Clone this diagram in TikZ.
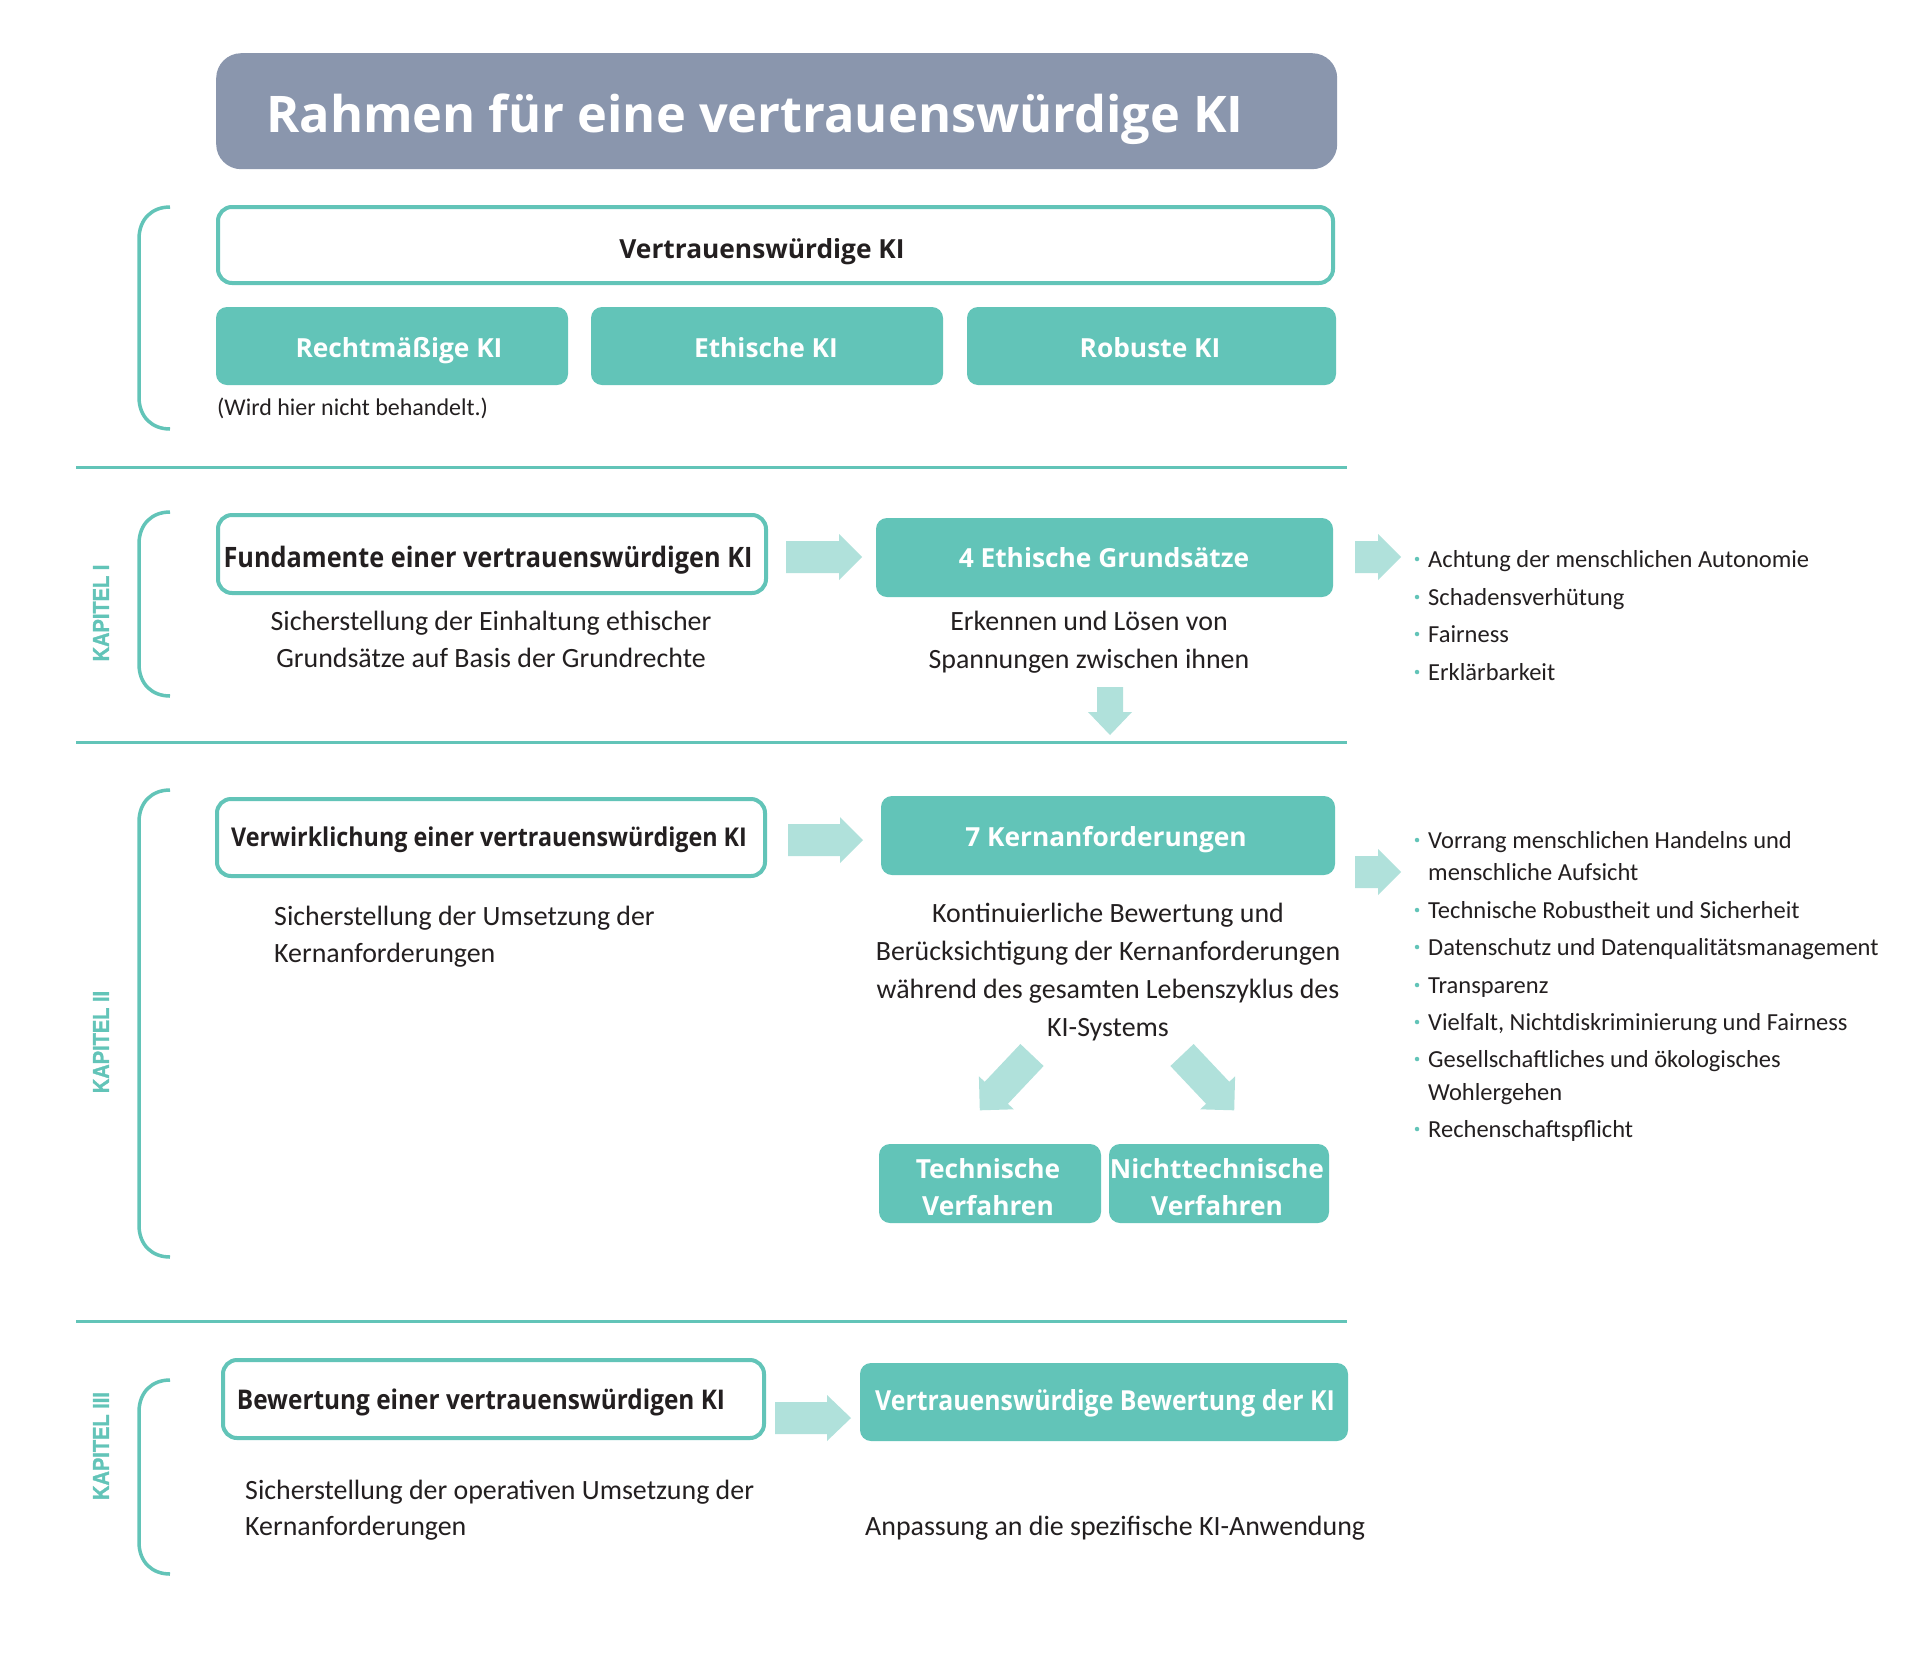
\documentclass[tikz,border=0pt]{standalone}
\usepackage{fontspec}
\setmainfont{Carlito}
\newfontfamily\osfont{Open Sans}
\newfontfamily\osnarrow{Open Sans}[FakeStretch=0.9]
\newfontfamily\kapfont{Liberation Sans}[FakeStretch=0.87,BoldFeatures={FakeBold=1.3}]
\definecolor{kteal}{HTML}{62C4B8}
\definecolor{klight}{HTML}{B0E1DB}
\definecolor{ktitle}{HTML}{8A96AD}
\definecolor{ktext}{HTML}{231F20}
\tikzset{
  outlinebox/.style={draw=kteal, line width=4pt, rounded corners=14pt, fill=white, inner sep=0pt, outer sep=0pt, anchor=north west},
  fillbox/.style={fill=kteal, rounded corners=11pt, inner sep=0pt, outer sep=0pt, anchor=north west},
  boxtxt/.style={font=\osfont\bfseries\fontsize{26.3}{32}\selectfont, inner sep=0pt, anchor=base},
  wtxt/.style={boxtxt, text=white},
  btxt/.style={boxtxt, text=ktext},
  narrow/.style={font=\osnarrow\bfseries\fontsize{#1}{32}\selectfont},
  body/.style={font=\fontsize{27.9}{37.5}\selectfont, text=ktext, inner sep=0pt},
  bodyc/.style={body, anchor=base},
  bodyl/.style={body, anchor=base west},
  listtxt/.style={font=\fontsize{24.5}{32}\selectfont, text=ktext, inner sep=0pt, anchor=base west},
  bul/.style={fill=kteal, circle, inner sep=0pt, minimum size=4.5pt},
  kap/.style={font=\kapfont\bfseries\fontsize{23}{23}\selectfont, text=kteal, rotate=90, inner sep=0pt},
  brace/.style={draw=kteal, line width=3.5pt},
  sepline/.style={draw=kteal, line width=3pt},
  blockarr/.style={fill=klight},
}
\begin{document}
\begin{tikzpicture}[x=1pt,y=-1pt]
\useasboundingbox (0,0) rectangle (1922,1652);
\fill[white] (0,0) rectangle (1922,1652);

% Title
\node[fill=ktitle, rounded corners=25pt, minimum width=1121pt, minimum height=116pt, anchor=north west, inner sep=0pt] (title) at (216,53) {};
\node[font=\osfont\bfseries\fontsize{50.5}{56}\selectfont, text=white, anchor=base west, inner sep=0pt] (titlet) at (266,132) {Rahmen für eine vertrauenswürdige KI};

% Top block
\draw[brace] (170,207) .. controls (152,207) and (139,219) .. (139,239) -- (139,397) .. controls (139,417) and (152,429) .. (170,429);
\node[outlinebox, minimum width=1115pt, minimum height=76pt] (vki) at (218,207) {};
\node[btxt] (vkit) at (762,258) {Vertrauenswürdige KI};
\node[fillbox, minimum width=352pt, minimum height=78pt] (recht) at (216,307) {};
\node[wtxt] (rechtt) at (399,357) {Rechtmäßige KI};
\node[fillbox, minimum width=352pt, minimum height=78pt] (ethik) at (591,307) {};
\node[wtxt] (ethikt) at (766,357) {Ethische KI};
\node[fillbox, minimum width=369pt, minimum height=78pt] (robust) at (967,307) {};
\node[wtxt] (robustt) at (1150,357) {Robuste KI};
\node[font=\fontsize{24}{28}\selectfont, text=ktext, inner sep=0pt, anchor=base west] (wird) at (217,415) {(Wird hier nicht behandelt.)};

% separator lines
\draw[sepline] (76,467) -- (1347,467);
\draw[sepline] (76,742) -- (1347,742);
\draw[sepline] (76,1321) -- (1347,1321);

% Kapitel I
\draw[brace] (170,512) .. controls (152,512) and (139,524) .. (139,544) -- (139,664) .. controls (139,684) and (152,696) .. (170,696);
\node[kap] (kap1) at (101,613) {KAPITEL I};
\node[outlinebox, minimum width=548pt, minimum height=78pt] (fund) at (218,515) {};
\node[btxt, narrow=28.1] (fundt) at (488,567) {Fundamente einer vertrauenswürdigen KI};
\node[bodyc] (fund1) at (491,630) {Sicherstellung der Einhaltung ethischer};
\node[bodyc] (fund2) at (491,667) {Grundsätze auf Basis der Grundrechte};
\fill[blockarr] (786,541) -- (839,541) -- (839,534) -- (862,557) -- (839,580) -- (839,573) -- (786,573) -- cycle;
\node[fillbox, minimum width=457pt, minimum height=79pt] (eg) at (876,518) {};
\node[wtxt] (egt) at (1104,567) {4 Ethische Grundsätze};
\node[bodyc] (eg1) at (1089,630) {Erkennen und Lösen von};
\node[bodyc] (eg2) at (1089,668) {Spannungen zwischen ihnen};
\fill[blockarr] (1355,541) -- (1378,541) -- (1378,534) -- (1401,557) -- (1378,580) -- (1378,573) -- (1355,573) -- cycle;
\fill[blockarr] (1097,687) -- (1123,687) -- (1123,712) -- (1132,712) -- (1110,735) -- (1088,712) -- (1097,712) -- cycle;
\node[bul] (b11) at (1417,559) {};
\node[listtxt] (l11) at (1428,567) {Achtung der menschlichen Autonomie};
\node[bul] (b12) at (1417,597) {};
\node[listtxt] (l12) at (1428,605) {Schadensverhütung};
\node[bul] (b13) at (1417,634) {};
\node[listtxt] (l13) at (1428,642) {Fairness};
\node[bul] (b14) at (1417,672) {};
\node[listtxt] (l14) at (1428,680) {Erklärbarkeit};

% Kapitel II
\draw[brace] (170,790) .. controls (152,790) and (139,802) .. (139,822) -- (139,1225) .. controls (139,1245) and (152,1257) .. (170,1257);
\node[kap] (kap2) at (101,1042) {KAPITEL II};
\node[outlinebox, minimum width=548pt, minimum height=77pt] (verw) at (217,799) {};
\node[btxt, narrow=25.9] (verwt) at (489,846) {Verwirklichung einer vertrauenswürdigen KI};
\node[bodyl] (verw1) at (274,925) {Sicherstellung der Umsetzung der};
\node[bodyl] (verw2) at (274,962) {Kernanforderungen};
\fill[blockarr] (788,824) -- (840,824) -- (840,817) -- (863,840) -- (840,863) -- (840,856) -- (788,856) -- cycle;
\node[fillbox, minimum width=454pt, minimum height=79pt] (kern) at (881,796) {};
\node[wtxt] (kernt) at (1106,846) {7 Kernanforderungen};
\node[bodyc] (kern1) at (1108,922) {Kontinuierliche Bewertung und};
\node[bodyc] (kern2) at (1108,960) {Berücksichtigung der Kernanforderungen};
\node[bodyc] (kern3) at (1108,998) {während des gesamten Lebenszyklus des};
\node[bodyc] (kern4) at (1108,1036) {KI-Systems};
\fill[blockarr] (1020.4,1044.0) -- (1043.6,1066.0) -- (1007.9,1103.8) -- (1013.8,1109.3) -- (979.8,1110.3) -- (978.9,1076.3) -- (984.7,1081.8) -- cycle;
\fill[blockarr] (1193.6,1044.0) -- (1170.4,1066.0) -- (1206.1,1103.8) -- (1200.2,1109.3) -- (1234.2,1110.3) -- (1235.1,1076.3) -- (1229.3,1081.8) -- cycle;
\node[fillbox, minimum width=222pt, minimum height=79pt] (tv) at (879,1144) {};
\node[wtxt] (tv1) at (988,1178) {Technische};
\node[wtxt] (tv2) at (988,1215) {Verfahren};
\node[fillbox, minimum width=220pt, minimum height=79pt] (ntv) at (1109,1144) {};
\node[wtxt] (ntv1) at (1217,1178) {Nichttechnische};
\node[wtxt] (ntv2) at (1217,1215) {Verfahren};
\fill[blockarr] (1355,856) -- (1378,856) -- (1378,849) -- (1401,872) -- (1378,895) -- (1378,888) -- (1355,888) -- cycle;
\node[bul] (b21) at (1417,840) {};
\node[listtxt] (l21a) at (1428,848) {Vorrang menschlichen Handelns und};
\node[listtxt] (l21b) at (1428,880) {menschliche Aufsicht};
\node[bul] (b22) at (1417,910) {};
\node[listtxt] (l22) at (1428,918) {Technische Robustheit und Sicherheit};
\node[bul] (b23) at (1417,947) {};
\node[listtxt] (l23) at (1428,955) {Datenschutz und Datenqualitätsmanagement};
\node[bul] (b24) at (1417,985) {};
\node[listtxt] (l24) at (1428,993) {Transparenz};
\node[bul] (b25) at (1417,1022) {};
\node[listtxt] (l25) at (1428,1030) {Vielfalt, Nichtdiskriminierung und Fairness};
\node[bul] (b26) at (1417,1059) {};
\node[listtxt] (l26a) at (1428,1067) {Gesellschaftliches und ökologisches};
\node[listtxt] (l26b) at (1428,1100) {Wohlergehen};
\node[bul] (b27) at (1417,1129) {};
\node[listtxt] (l27) at (1428,1137) {Rechenschaftspflicht};

% Kapitel III
\draw[brace] (170,1380) .. controls (152,1380) and (139,1392) .. (139,1412) -- (139,1542) .. controls (139,1562) and (152,1574) .. (170,1574);
\node[kap] (kap3) at (101,1446) {KAPITEL III};
\node[outlinebox, minimum width=541pt, minimum height=78pt] (bew) at (223,1360) {};
\node[btxt, narrow=27.1] (bewt) at (481,1409) {Bewertung einer vertrauenswürdigen KI};
\node[bodyl] (bew1) at (245,1499) {Sicherstellung der operativen Umsetzung der};
\node[bodyl] (bew2) at (245,1535) {Kernanforderungen};
\fill[blockarr] (775,1402) -- (827,1402) -- (827,1395) -- (851,1418) -- (827,1441) -- (827,1434) -- (775,1434) -- cycle;
\node[fillbox, minimum width=488pt, minimum height=78pt] (vbk) at (860,1363) {};
\node[wtxt, narrow=27.6] (vbkt) at (1105,1410) {Vertrauenswürdige Bewertung der KI};
\node[bodyl] (anp) at (865,1535) {Anpassung an die spezifische KI-Anwendung};
\end{tikzpicture}
\end{document}
